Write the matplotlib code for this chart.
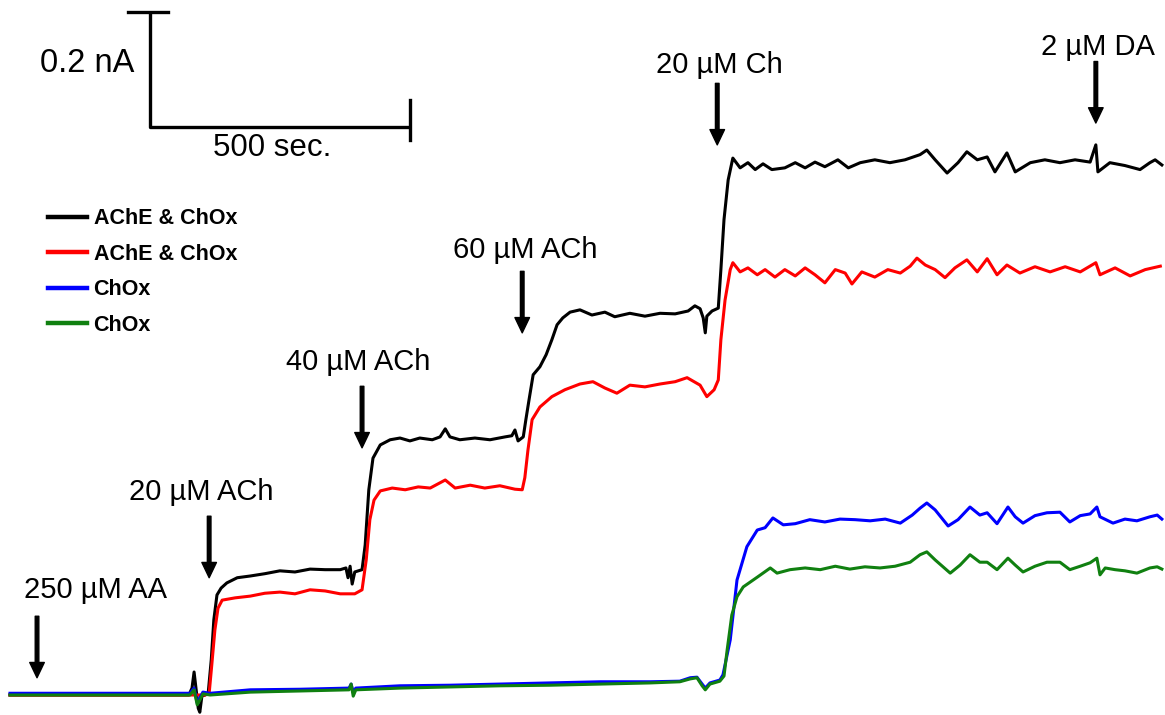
import matplotlib
matplotlib.use("Agg")
from matplotlib import pyplot as plt

plt.rcParams["font.family"] = ["Liberation Sans", "DejaVu Sans"]

# time in seconds, current in nA (baseline = 0)
black_t = [0, 344, 350, 354, 358, 362, 365, 369, 381, 387, 392, 398, 406, 417, 437, 462, 490, 519,
           548, 577, 606, 635, 646, 650, 654, 658, 663, 677, 683, 690, 698, 712, 731, 750, 769, 788,
           812, 827, 837, 846, 865, 894, 923, 952, 965, 971, 977, 987, 992, 998, 1006, 1019, 1031,
           1042, 1052, 1063, 1077, 1096, 1119, 1144, 1163, 1192, 1221, 1250, 1279, 1304, 1317, 1327,
           1333, 1337, 1340, 1350, 1362, 1367, 1373, 1381,
           1390, 1404, 1419, 1433, 1448, 1465, 1490, 1510, 1529, 1548, 1567, 1592, 1612, 1635, 1663,
           1692, 1721, 1750, 1763, 1779, 1802, 1823, 1840, 1860, 1879, 1894, 1917, 1933, 1962, 1990,
           2019, 2048, 2077, 2088, 2092, 2115, 2144, 2173, 2192, 2202, 2215]
black_i = [0, 0, 0.012, 0.040, 0.009, -0.023, -0.030, -0.002, 0.002, 0.061, 0.131, 0.174, 0.186,
           0.195, 0.204, 0.207, 0.211, 0.216, 0.214, 0.219, 0.218, 0.218, 0.221, 0.204, 0.224, 0.193,
           0.214, 0.218, 0.261, 0.357, 0.412, 0.435, 0.444, 0.447, 0.442, 0.447, 0.444, 0.449, 0.463,
           0.449, 0.444, 0.447, 0.444, 0.449, 0.451, 0.461, 0.442, 0.449, 0.479, 0.513, 0.557, 0.571,
           0.592, 0.618, 0.644, 0.656, 0.666, 0.670, 0.661, 0.666, 0.658, 0.664, 0.659, 0.664, 0.663,
           0.668, 0.677, 0.672, 0.656, 0.630, 0.659, 0.668, 0.673, 0.740, 0.827, 0.896,
           0.934, 0.917, 0.926, 0.914, 0.924, 0.914, 0.917, 0.926, 0.917, 0.927, 0.919, 0.931, 0.917,
           0.926, 0.931, 0.926, 0.931, 0.940, 0.948, 0.931, 0.908, 0.926, 0.945, 0.931, 0.936, 0.910,
           0.943, 0.910, 0.926, 0.931, 0.926, 0.931, 0.927, 0.957, 0.910, 0.926, 0.921, 0.914, 0.926,
           0.931, 0.922]

red_t = [0, 375, 383, 388, 394, 400, 408, 433, 462, 490, 519, 548, 577, 606, 635, 663, 677, 685,
         692, 700, 712, 735, 760, 785, 808, 837, 856, 885, 913, 942, 971, 985, 990, 996, 1004, 1019,
         1042, 1067, 1096, 1121, 1144, 1167, 1192, 1221, 1250, 1279, 1302, 1327, 1340, 1354, 1362,
         1367, 1375, 1385,
         1390, 1404, 1419, 1437, 1452, 1471, 1490, 1510, 1529, 1548, 1567, 1587, 1606, 1619, 1638,
         1663, 1688, 1712, 1731, 1744, 1760, 1779, 1798, 1817, 1840, 1860, 1879, 1898, 1917, 1942,
         1971, 2000, 2029, 2058, 2088, 2096, 2125, 2154, 2183, 2212]
red_i = [0, 0, 0.003, 0.052, 0.113, 0.151, 0.165, 0.169, 0.172, 0.177, 0.179, 0.176, 0.183, 0.181,
         0.176, 0.176, 0.183, 0.235, 0.305, 0.339, 0.355, 0.360, 0.357, 0.362, 0.360, 0.374, 0.360,
         0.365, 0.360, 0.364, 0.358, 0.357, 0.378, 0.426, 0.479, 0.501, 0.519, 0.531, 0.541, 0.545,
         0.534, 0.525, 0.539, 0.536, 0.541, 0.545, 0.552, 0.539, 0.519, 0.531, 0.548, 0.618, 0.687,
         0.740,
         0.752, 0.736, 0.743, 0.731, 0.740, 0.727, 0.740, 0.729, 0.743, 0.731, 0.717, 0.740, 0.734,
         0.715, 0.736, 0.727, 0.740, 0.734, 0.746, 0.760, 0.748, 0.740, 0.726, 0.743, 0.757, 0.736,
         0.759, 0.731, 0.748, 0.734, 0.745, 0.736, 0.745, 0.736, 0.752, 0.731, 0.743, 0.729, 0.740,
         0.746]

blue_t = [0, 346, 354, 360, 365, 371, 385, 462, 558, 652, 656, 660, 665, 750, 846, 942, 1038, 1135,
          1231, 1288, 1308, 1321, 1331, 1337, 1346, 1365, 1371, 1379, 1385, 1398, 1417, 1437, 1452,
          1467, 1487, 1510, 1538, 1567, 1596, 1625, 1654, 1683, 1712, 1735, 1750, 1763, 1779, 1804,
          1823, 1846, 1865, 1879, 1898, 1919, 1933, 1948, 1971, 1994, 2019, 2038, 2058, 2077, 2090,
          2096, 2121, 2144, 2167, 2192, 2206, 2215]
blue_i = [0.003, 0.003, 0.012, -0.014, -0.005, 0.005, 0.003, 0.009, 0.010, 0.012, 0.019, 0.005,
          0.012, 0.016, 0.017, 0.019, 0.021, 0.023, 0.023, 0.024, 0.030, 0.031, 0.019, 0.012, 0.021,
          0.026, 0.035, 0.070, 0.096, 0.200, 0.258, 0.287, 0.291, 0.308, 0.296, 0.298, 0.305, 0.301,
          0.306, 0.305, 0.303, 0.306, 0.299, 0.313, 0.325, 0.334, 0.322, 0.294, 0.305, 0.327, 0.313,
          0.317, 0.298, 0.327, 0.310, 0.299, 0.312, 0.317, 0.318, 0.301, 0.312, 0.315, 0.327, 0.310,
          0.299, 0.306, 0.303, 0.310, 0.313, 0.306]

green_t = [0, 346, 354, 360, 365, 371, 385, 462, 558, 652, 656, 660, 665, 750, 846, 942, 1038, 1135,
           1231, 1288, 1308, 1321, 1331, 1337, 1346, 1365, 1373, 1379, 1388, 1398, 1410, 1437, 1462,
           1475, 1500, 1529, 1558, 1587, 1615, 1644, 1673, 1702, 1731, 1750, 1763, 1779, 1808, 1827,
           1846, 1865, 1879, 1898, 1919, 1933, 1948, 1971, 1994, 2019, 2038, 2058, 2077, 2090, 2096,
           2106, 2125, 2144, 2167, 2192, 2206, 2215]
green_i = [0, 0, 0.009, -0.017, -0.009, 0.002, 0, 0.005, 0.007, 0.009, 0.019, -0.002, 0.009,
           0.012, 0.014, 0.016, 0.017, 0.019, 0.021, 0.023, 0.028, 0.030, 0.016, 0.009, 0.019, 0.024,
           0.033, 0.078, 0.139, 0.171, 0.188, 0.205, 0.221, 0.212, 0.218, 0.221, 0.218, 0.224, 0.219,
           0.223, 0.221, 0.224, 0.231, 0.244, 0.249, 0.235, 0.212, 0.226, 0.244, 0.231, 0.231, 0.218,
           0.238, 0.226, 0.214, 0.224, 0.231, 0.231, 0.218, 0.224, 0.230, 0.238, 0.209, 0.221, 0.218,
           0.216, 0.212, 0.221, 0.223, 0.219]

labels = ["AChE & ChOx", "AChE & ChOx", "ChOx", "ChOx"]

# additions: arrow time, arrow tip level, label position
add_names = ["250 \u00b5M AA", "20 \u00b5M ACh", "40 \u00b5M ACh", "60 \u00b5M ACh",
             "20 \u00b5M Ch", "2 \u00b5M DA"]
add_t = [52, 383, 677, 985, 1360, 2088]
add_tip = [0.030, 0.204, 0.430, 0.630, 0.957, 0.995]
label_t = [165, 367, 669, 990, 1365, 2092]
label_i = [0.183, 0.353, 0.579, 0.774, 1.096, 1.128]

fig = plt.figure(figsize=(11.65, 7.15), dpi=100)
ax = fig.add_axes([0, 0, 1, 1])
ax.set_xlim(-19.2, 2221)
ax.set_ylim(-0.0348, 1.209)
ax.axis("off")

lw = 2.2
ax.plot(black_t, black_i, color="black", lw=lw, label=labels[0], zorder=1)
ax.plot(red_t, red_i, color="#ff0000", lw=lw, label=labels[1], zorder=2)
ax.plot(blue_t, blue_i, color="#0000ff", lw=lw, label=labels[2], zorder=3)
ax.plot(green_t, green_i, color="#108010", lw=lw, label=labels[3], zorder=4)

for name, t, tip, lt, li in zip(add_names, add_t, add_tip, label_t, label_i):
    ax.annotate("", xy=(t, tip), xytext=(t, tip + 0.107),
                arrowprops=dict(facecolor="black", edgecolor="black", width=2.6,
                                headwidth=10.5, headlength=11, shrink=0))
    ax.text(lt, li, name, ha="center", va="center", fontsize=21)

# scale bar: 500 sec by 0.2 nA
sb_t, sb_i = 269, 0.988
ax.plot([sb_t, sb_t, sb_t + 500], [sb_i + 0.2, sb_i, sb_i], color="black", lw=2.4,
        solid_capstyle="butt")
ax.plot([sb_t - 42, sb_t + 35], [sb_i + 0.2, sb_i + 0.2], color="black", lw=2.4)
ax.plot([sb_t + 500, sb_t + 500], [sb_i - 0.022, sb_i + 0.047], color="black", lw=2.4)
ax.text(sb_t - 30, sb_i + 0.111, "0.2 nA", ha="right", va="center", fontsize=23.5)
ax.text(sb_t + 235, sb_i - 0.037, "500 sec.", ha="center", va="center", fontsize=22.5)

leg = ax.legend(loc="upper left", bbox_to_anchor=(0.041, 0.709), frameon=False,
                prop=dict(size=15.5, weight="bold"), handlelength=1.8, handletextpad=0.33,
                labelspacing=0.68, borderpad=0, borderaxespad=0)
for line in leg.get_lines():
    line.set_linewidth(3.2)

fig.savefig("out.png", dpi=100)
